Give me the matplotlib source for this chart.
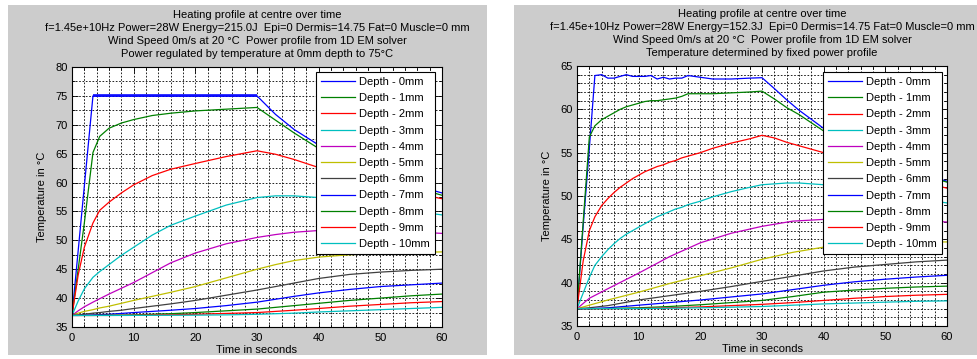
import numpy as np
import matplotlib
matplotlib.use("Agg")
import matplotlib.pyplot as plt
from matplotlib.patches import Rectangle
from matplotlib.ticker import MultipleLocator

plt.rcParams['font.family'] = ['Liberation Sans', 'DejaVu Sans']
plt.rcParams['font.size'] = 8

# Legend labels and MATLAB default colour order
depth_labels = ['Depth - %dmm' % d for d in range(11)]
matlab_colors = ['#0000ff', '#008000', '#ff0000', '#00bfbf', '#bf00bf',
                 '#bfbf00', '#404040', '#0000ff', '#008000', '#ff0000', '#00bfbf']

# ---- left panel: power regulated to 75 C ----
t_left = [0, 1, 2, 3.4, 4.5, 6, 8, 10, 13, 16, 20, 25, 30, 33, 36, 40, 45, 50, 55, 60]
left_temps = [
    [37, 48.2, 59.4, 75, 75, 75, 75, 75, 75, 75, 75, 75, 75, 71.8, 69.2, 66.5, 63.8, 61.5, 59.7, 58.2],
    [37, 45, 53, 65.2, 68.0, 69.4, 70.3, 70.9, 71.6, 72.0, 72.4, 72.7, 73.0, 70.8, 68.6, 65.9, 63.2, 61.0, 59.3, 57.8],
    [37, 44, 48.8, 53, 55.2, 56.6, 58.2, 59.6, 61.2, 62.3, 63.3, 64.5, 65.5, 64.9, 64.0, 62.6, 61.0, 59.6, 58.3, 57.2],
    [37, 39.5, 41.6, 43.6, 44.6, 45.8, 47.4, 48.8, 50.9, 52.6, 54.2, 56.1, 57.4, 57.7, 57.7, 57.4, 56.7, 55.9, 55.1, 54.4],
    [37, 37.8, 38.5, 39.3, 39.9, 40.7, 41.7, 42.7, 44.4, 46.1, 47.8, 49.4, 50.5, 51.0, 51.4, 51.7, 51.8, 51.7, 51.5, 51.2],
    [37, 37.4, 37.7, 38.0, 38.3, 38.6, 39.1, 39.6, 40.3, 41.0, 42.0, 43.5, 45.0, 45.8, 46.5, 47.1, 47.5, 47.8, 47.9, 48.0],
    [37, 37.1, 37.2, 37.4, 37.5, 37.7, 37.9, 38.2, 38.6, 39.0, 39.6, 40.5, 41.4, 42.0, 42.6, 43.4, 44.1, 44.5, 44.8, 45.0],
    [37, 37, 37.05, 37.1, 37.15, 37.2, 37.35, 37.5, 37.7, 37.9, 38.2, 38.7, 39.3, 39.8, 40.3, 40.9, 41.5, 42.0, 42.3, 42.6],
    [37, 37, 37, 37, 37.02, 37.04, 37.07, 37.1, 37.2, 37.3, 37.5, 37.8, 38.1, 38.4, 38.7, 39.1, 39.6, 40.0, 40.4, 40.7],
    [37, 37, 37, 37, 37, 37, 37.02, 37.04, 37.08, 37.12, 37.2, 37.35, 37.5, 37.7, 37.9, 38.2, 38.6, 38.9, 39.2, 39.4],
    [37, 37, 37, 37, 37, 37, 37, 37.01, 37.02, 37.03, 37.05, 37.1, 37.2, 37.3, 37.4, 37.6, 37.8, 38.0, 38.2, 38.4],
]
# regulation band of the 0mm trace (on/off control jitter)
reg_t = [3.4, 30]
reg_low = 74.75
reg_high = 75.35

# ---- right panel: fixed power profile ----
t_right_fast = [0, 1, 2, 2.9, 4, 5, 6, 7, 8, 9, 10, 11, 12, 13, 14, 15, 16, 17, 18, 19, 20,
                22, 25, 28, 30, 32, 34, 36, 40, 45, 50, 55, 60]
t_right_slow = [0, 2, 5, 10, 15, 20, 25, 30, 35, 40, 45, 50, 55, 60]
right_fast = [
    [37, 46.5, 55.5, 63.9, 64.0, 63.6, 63.6, 63.8, 64.0, 63.8, 63.8, 63.8, 63.9, 63.5, 63.7, 63.5,
     63.6, 63.6, 63.9, 63.8, 63.7, 63.5, 63.5, 63.6, 63.65, 62.4, 61.1, 59.9, 57.8, 55.8, 54.2, 52.8, 51.7],
    [37, 47, 56.8, 58.1, 58.8, 59.2, 59.6, 60.0, 60.3, 60.5, 60.7, 60.9, 61.0, 61.0, 61.1, 61.2,
     61.3, 61.5, 61.8, 61.8, 61.8, 61.8, 61.9, 62.0, 62.1, 61.2, 60.2, 59.4, 57.5, 55.5, 53.9, 52.6, 51.6],
    [37, 42.5, 46, 47.6, 48.9, 49.7, 50.4, 51.0, 51.5, 52.0, 52.4, 52.8, 53.1, 53.4, 53.6, 53.9,
     54.1, 54.4, 54.6, 54.8, 55.0, 55.5, 56.1, 56.6, 57.0, 56.7, 56.2, 55.8, 55.0, 53.9, 52.8, 51.8, 50.9],
    [37, 38.8, 40.6, 42.0, 43.0, 43.8, 44.5, 45.1, 45.6, 46.0, 46.4, 46.8, 47.2, 47.6, 47.9, 48.2,
     48.5, 48.7, 49.0, 49.2, 49.4, 49.9, 50.5, 51.0, 51.3, 51.4, 51.5, 51.5, 51.3, 50.8, 50.3, 49.7, 49.2],
]
right_slow = [
    [37, 38.2, 39.3, 41.1, 43.0, 44.6, 45.7, 46.5, 47.1, 47.3, 47.4, 47.3, 47.2, 47.0],
    [37, 37.4, 38.0, 38.9, 39.9, 40.8, 41.7, 42.7, 43.5, 44.1, 44.4, 44.6, 44.7, 44.7],
    [37, 37.1, 37.35, 38.0, 38.5, 39.0, 39.55, 40.15, 40.75, 41.35, 41.8, 42.1, 42.4, 42.6],
    [37, 37.0, 37.1, 37.4, 37.7, 38.0, 38.35, 38.7, 39.2, 39.7, 40.1, 40.4, 40.65, 40.85],
    [37, 37, 37.02, 37.1, 37.25, 37.45, 37.7, 37.95, 38.4, 38.9, 39.15, 39.35, 39.5, 39.6],
    [37, 37, 37, 37.03, 37.1, 37.2, 37.35, 37.5, 37.7, 37.95, 38.2, 38.4, 38.55, 38.65],
    [37, 37, 37, 37.01, 37.05, 37.1, 37.17, 37.25, 37.4, 37.55, 37.65, 37.75, 37.85, 37.9],
]

left_title = ("Heating profile at centre over time\n"
              "f=1.45e+10Hz Power=28W Energy=215.0J  Epi=0 Dermis=14.75 Fat=0 Muscle=0 mm\n"
              "Wind Speed 0m/s at 20 \u00b0C  Power profile from 1D EM solver\n"
              "Power regulated by temperature at 0mm depth to 75\u00b0C")
right_title = ("Heating profile at centre over time\n"
               "f=1.45e+10Hz Power=28W Energy=152.3J  Epi=0 Dermis=14.75 Fat=0 Muscle=0 mm\n"
               "Wind Speed 0m/s at 20 \u00b0C  Power profile from 1D EM solver\n"
               "Temperature determined by fixed power profile")

W, H = 977, 359
fig = plt.figure(figsize=(W / 100, H / 100), dpi=100, facecolor='white')

# MATLAB-style grey figure panels (behind the axes)
for x0, x1 in [(8, 487), (514, 977)]:
    fig.patches.append(Rectangle((x0 / W, 1 - 355 / H), (x1 - x0) / W, 350 / H,
                                 transform=fig.transFigure, facecolor='#cccccc',
                                 edgecolor='none', zorder=-10))

axL = fig.add_axes([72 / W, 1 - 327 / H, 370 / W, 260 / H])
axR = fig.add_axes([577 / W, 1 - 326 / H, 370 / W, 260 / H])


def style_axes(ax, ylim, ymajor, yminor, title):
    ax.set_xlim(0, 60)
    ax.set_ylim(*ylim)
    ax.xaxis.set_major_locator(MultipleLocator(10))
    ax.xaxis.set_minor_locator(MultipleLocator(2))
    ax.yaxis.set_major_locator(MultipleLocator(ymajor))
    ax.yaxis.set_minor_locator(MultipleLocator(yminor))
    ax.tick_params(which='both', direction='in', top=True, right=True, labelsize=8,
                   width=0.6, color='black')
    ax.tick_params(axis='x', pad=4)
    ax.tick_params(axis='y', pad=3)
    ax.tick_params(which='major', length=4)
    ax.tick_params(which='minor', length=2)
    ax.grid(which='both', color='black', linestyle=(0, (2, 2)), linewidth=0.6)
    ax.set_axisbelow(True)
    for s in ax.spines.values():
        s.set_linewidth(0.8)
    ax.set_xlabel('Time in seconds', fontsize=8, labelpad=2)
    ax.set_ylabel('Temperature in \u00b0C', fontsize=8, labelpad=6)
    ax.set_title(title, fontsize=8, linespacing=1.38, pad=7)


# left
for i in range(11):
    axL.plot(t_left, left_temps[i], color=matlab_colors[i], lw=0.9, label=depth_labels[i])
axL.fill_between(reg_t, reg_low, reg_high, color=matlab_colors[0], alpha=0.8, lw=0)
style_axes(axL, (35, 80), 5, 2.5, left_title)
legL = axL.legend(loc='upper right', bbox_to_anchor=(0.981, 0.981), borderaxespad=0,
                  fontsize=8, handlelength=3.0, handletextpad=0.4, labelspacing=0.56,
                  fancybox=False, framealpha=1, edgecolor='black', borderpad=0.45)
legL.get_frame().set_linewidth(0.8)

# right
for i in range(4):
    axR.plot(t_right_fast, right_fast[i], color=matlab_colors[i], lw=0.9, label=depth_labels[i])
for j in range(7):
    i = j + 4
    axR.plot(t_right_slow, right_slow[j], color=matlab_colors[i], lw=0.9, label=depth_labels[i])
style_axes(axR, (35, 65), 5, 1, right_title)
legR = axR.legend(loc='upper right', bbox_to_anchor=(0.986, 0.977), borderaxespad=0,
                  fontsize=8, handlelength=3.0, handletextpad=0.4, labelspacing=0.56,
                  fancybox=False, framealpha=1, edgecolor='black', borderpad=0.45)
legR.get_frame().set_linewidth(0.8)

fig.savefig('out.png', dpi=100, facecolor='white')
